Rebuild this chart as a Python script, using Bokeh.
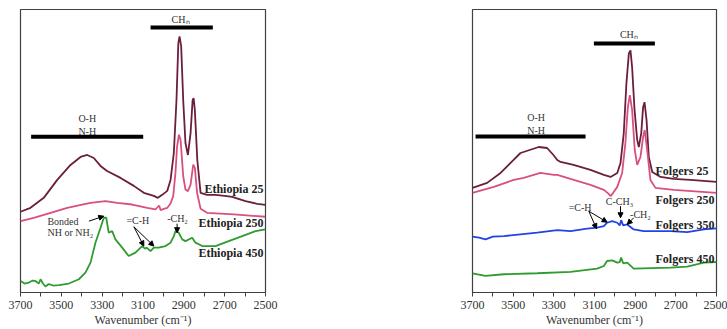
from bokeh.plotting import figure
from bokeh.layouts import row
from bokeh.models import Range1d, FixedTicker, Label, Arrow, NormalHead
from bokeh.embed import file_html
from bokeh.resources import INLINE

# ---------------- data (wavenumber cm-1, absorbance in arbitrary offset units) ----------------
eth25_wn = [3700, 3651, 3586, 3520, 3455, 3406, 3373, 3341, 3308, 3276, 3210, 3145, 3096, 3047, 3027, 3006,
            2981, 2965, 2949, 2936, 2927, 2921, 2913, 2903, 2892, 2880, 2867, 2857, 2852, 2846, 2834, 2818,
            2786, 2745, 2700, 2663, 2598, 2540, 2500]
eth25_y = [81, 85, 95, 113, 128, 136, 138, 135, 127, 122, 115, 107, 100, 97, 95, 98,
           102, 113, 140, 193, 250, 257, 247, 193, 150, 138, 160, 193, 195, 183, 133, 100,
           98, 98, 97, 96, 91.6, 89, 88]

eth250_wn = [3700, 3635, 3553, 3471, 3398, 3357, 3284, 3226, 3153, 3079, 3039, 3021, 3014, 2998, 2981, 2965,
             2952, 2941, 2933, 2924, 2916, 2903, 2892, 2880, 2867, 2854, 2846, 2835, 2818, 2786, 2655, 2500]
eth250_y = [71.7, 75, 80, 85, 88.3, 90, 91.6, 90, 88.3, 85, 83.3, 87.3, 82.7, 84, 85, 89.3,
            96.7, 120, 146.7, 158.3, 153.3, 116.7, 103.3, 101.7, 108.3, 128.3, 125, 100, 84, 80, 78.3, 76]

eth450_wn = [3700, 3680, 3659, 3640, 3627, 3610, 3602, 3590, 3578, 3561, 3540, 3512, 3463, 3414, 3382, 3357,
             3333, 3308, 3292, 3280, 3268, 3251, 3235, 3202, 3170, 3137, 3104, 3090, 3083, 3063, 3047, 3023,
             2990, 2965, 2949, 2941, 2925, 2908, 2892, 2859, 2843, 2810, 2745, 2680, 2614, 2549, 2500]
eth450_y = [11.6, 9, 10, 12, 11.6, 9, 13.3, 9, 6, 8.5, 7, 7.3, 9, 13.3, 20, 30,
            50, 65, 75, 75, 60, 61.6, 53.3, 45, 36.6, 40, 46.6, 44, 45, 41.6, 45, 45,
            46.6, 50, 56.6, 61.6, 60, 53.3, 51.6, 55, 50, 46.6, 46.6, 51.6, 56.6, 61.6, 63.3]

fol25_wn = [3700, 3628, 3562, 3498, 3464, 3374, 3333, 3302, 3283, 3267, 3203, 3120, 3054, 3021, 2988, 2972,
            2956, 2943, 2931, 2923, 2915, 2903, 2890, 2882, 2870, 2861, 2854, 2844, 2833, 2816, 2775, 2711,
            2628, 2500]
fol25_y = [105, 110, 120, 133, 140, 146, 145, 138, 133, 131, 128, 123, 118, 116, 120, 130,
           160, 210, 240, 243, 226, 183, 153, 146, 160, 186, 191, 173, 136, 121, 116, 114,
           113, 111]

fol250_wn = [3700, 3595, 3497, 3448, 3366, 3300, 3283, 3202, 3120, 3054, 3030, 3021, 3008, 2988, 2964, 2948,
             2936, 2926, 2915, 2902, 2890, 2874, 2861, 2853, 2841, 2825, 2800, 2710, 2500]
fol250_y = [100, 106, 113, 115, 120, 118, 118, 113, 108, 103, 99, 96.6, 100, 106, 120, 150,
            186, 198, 183, 143, 128, 136, 156, 163, 143, 113, 105, 103, 100]

fol350_wn = [3700, 3668, 3636, 3600, 3546, 3464, 3382, 3283, 3218, 3136, 3087, 3054, 3038, 3013, 2988, 2976,
             2969, 2959, 2939, 2907, 2858, 2726, 2644, 2562, 2500]
fol350_y = [56, 55, 53.3, 56, 56.6, 58.3, 60, 62.6, 61.6, 64, 65, 66.6, 70, 71.6, 70, 67.3,
            72.6, 67.3, 68.3, 63.3, 61.6, 61.6, 60.6, 63.3, 64.3]

fol450_wn = [3700, 3636, 3546, 3382, 3218, 3087, 3054, 3038, 3013, 2988, 2976, 2969, 2959, 2939, 2907, 2726,
             2644, 2562, 2500]
fol450_y = [19.3, 16.6, 18.3, 19.3, 20.6, 24, 26.6, 31.6, 32.3, 30, 30.5, 35, 29.3, 30, 24, 25,
            26, 30, 30.6]

major_ticks = [3700, 3500, 3300, 3100, 2900, 2700, 2500]
minor_ticks = [3600, 3400, 3200, 3000, 2800, 2600]

C_DARK = "#6b1e3e"
C_PINK = "#d9507f"
C_GREEN = "#2f9b30"
C_BLUE = "#2343e6"
SERIF = "Liberation Serif"
TXT = "#333333"


def make_fig(width, bl, br):
    p = figure(width=width, height=329, x_range=Range1d(3700, 2500), y_range=Range1d(0, 284),
               output_backend="svg", toolbar_location=None, y_axis_location=None,
               min_border_left=bl, min_border_right=br, min_border_top=9, min_border_bottom=36)
    p.grid.visible = False
    p.outline_line_color = "#404040"
    p.outline_line_width = 1.2
    ax = p.xaxis[0]
    ax.ticker = FixedTicker(ticks=major_ticks, minor_ticks=minor_ticks)
    ax.axis_label = "Wavenumber (cm\u207b\u00b9)"
    ax.axis_label_text_font = SERIF
    ax.axis_label_text_font_style = "normal"
    ax.axis_label_text_font_size = "12px"
    ax.axis_label_text_color = TXT
    ax.axis_label_standoff = 1
    ax.major_label_text_font = SERIF
    ax.major_label_text_font_size = "12px"
    ax.major_label_text_color = TXT
    ax.major_label_standoff = 4
    ax.major_tick_in = 0
    ax.major_tick_out = 4
    ax.minor_tick_in = 0
    ax.minor_tick_out = 4
    ax.axis_line_color = "#404040"
    ax.major_tick_line_color = "#404040"
    ax.minor_tick_line_color = "#404040"
    return p


def add_text(p, x, y, t, size="10px", bold=False, align="center", color=TXT):
    p.add_layout(Label(x=x, y=y, text=t, text_font=SERIF, text_font_size=size,
                       text_font_style="bold" if bold else "normal", text_align=align,
                       text_baseline="middle", text_color=color))


def add_arrow(p, x0, y0, x1, y1):
    p.add_layout(Arrow(end=NormalHead(size=5, fill_color="black", line_color="black"),
                       x_start=x0, y_start=y0, x_end=x1, y_end=y1,
                       line_color="black", line_width=1))


# ---------------- left panel: Ethiopia ----------------
p1 = make_fig(368, 20, 103)
p1.line(eth25_wn, eth25_y, line_color=C_DARK, line_width=1.8)
p1.line(eth250_wn, eth250_y, line_color=C_PINK, line_width=1.8)
p1.line(eth450_wn, eth450_y, line_color=C_GREEN, line_width=1.8)

p1.line([3648, 3099], [156.3, 156.3], line_color="black", line_width=4)
p1.line([3063, 2758], [266, 266], line_color="black", line_width=4)
add_text(p1, 3373, 175, "O-H")
add_text(p1, 3373, 162, "N-H")
add_text(p1, 2916, 274, "CH\u2099")
add_text(p1, 2510, 104, "Ethiopia 25", size="12px", bold=True, align="right", color="#222222")
add_text(p1, 2510, 70, "Ethiopia 250", size="12px", bold=True, align="right", color="#222222")
add_text(p1, 2510, 40, "Ethiopia 450", size="12px", bold=True, align="right", color="#222222")
add_text(p1, 3568, 71.6, "Bonded", align="left")
add_text(p1, 3568, 60, "NH or NH\u2082", align="left")
add_arrow(p1, 3365, 71.6, 3292, 76.6)
add_text(p1, 3125, 72.6, "=C-H")
add_arrow(p1, 3145, 66, 3096, 46.6)
add_arrow(p1, 3145, 66, 3047, 46.6)
add_text(p1, 2931, 74.3, "-CH\u2082")
add_arrow(p1, 2933, 69, 2933, 60)

# ---------------- right panel: Folgers ----------------
p2 = make_fig(359, 104, 11)
p2.line(fol25_wn, fol25_y, line_color=C_DARK, line_width=1.8)
p2.line(fol250_wn, fol250_y, line_color=C_PINK, line_width=1.8)
p2.line(fol350_wn, fol350_y, line_color=C_BLUE, line_width=1.8)
p2.line(fol450_wn, fol450_y, line_color=C_GREEN, line_width=1.8)

p2.line([3685, 3144], [156.6, 156.6], line_color="black", line_width=4)
p2.line([3103, 2803], [250, 250], line_color="black", line_width=4)
add_text(p2, 3387, 176, "O-H")
add_text(p2, 3387, 163, "N-H")
add_text(p2, 2931, 259, "CH\u2099")
add_text(p2, 2800, 121.6, "Folgers 25", size="12px", bold=True, align="left", color="#222222")
add_text(p2, 2800, 93.3, "Folgers 250", size="12px", bold=True, align="left", color="#222222")
add_text(p2, 2800, 67.5, "Folgers 350", size="12px", bold=True, align="left", color="#222222")
add_text(p2, 2800, 33.3, "Folgers 450", size="12px", bold=True, align="left", color="#222222")
add_text(p2, 3171, 85.3, "=C-H")
add_arrow(p2, 3128, 81.6, 3090, 64)
add_arrow(p2, 3128, 81.6, 3038, 70.6)
add_text(p2, 2977, 91.5, "C-CH\u2083")
add_arrow(p2, 2972, 86.6, 2972, 75)
add_text(p2, 2874, 78.3, "-CH\u2082")
add_arrow(p2, 2907, 75, 2939, 68.3)

layout = row(p1, p2)
open("out.html", "w").write(file_html(layout, INLINE))
